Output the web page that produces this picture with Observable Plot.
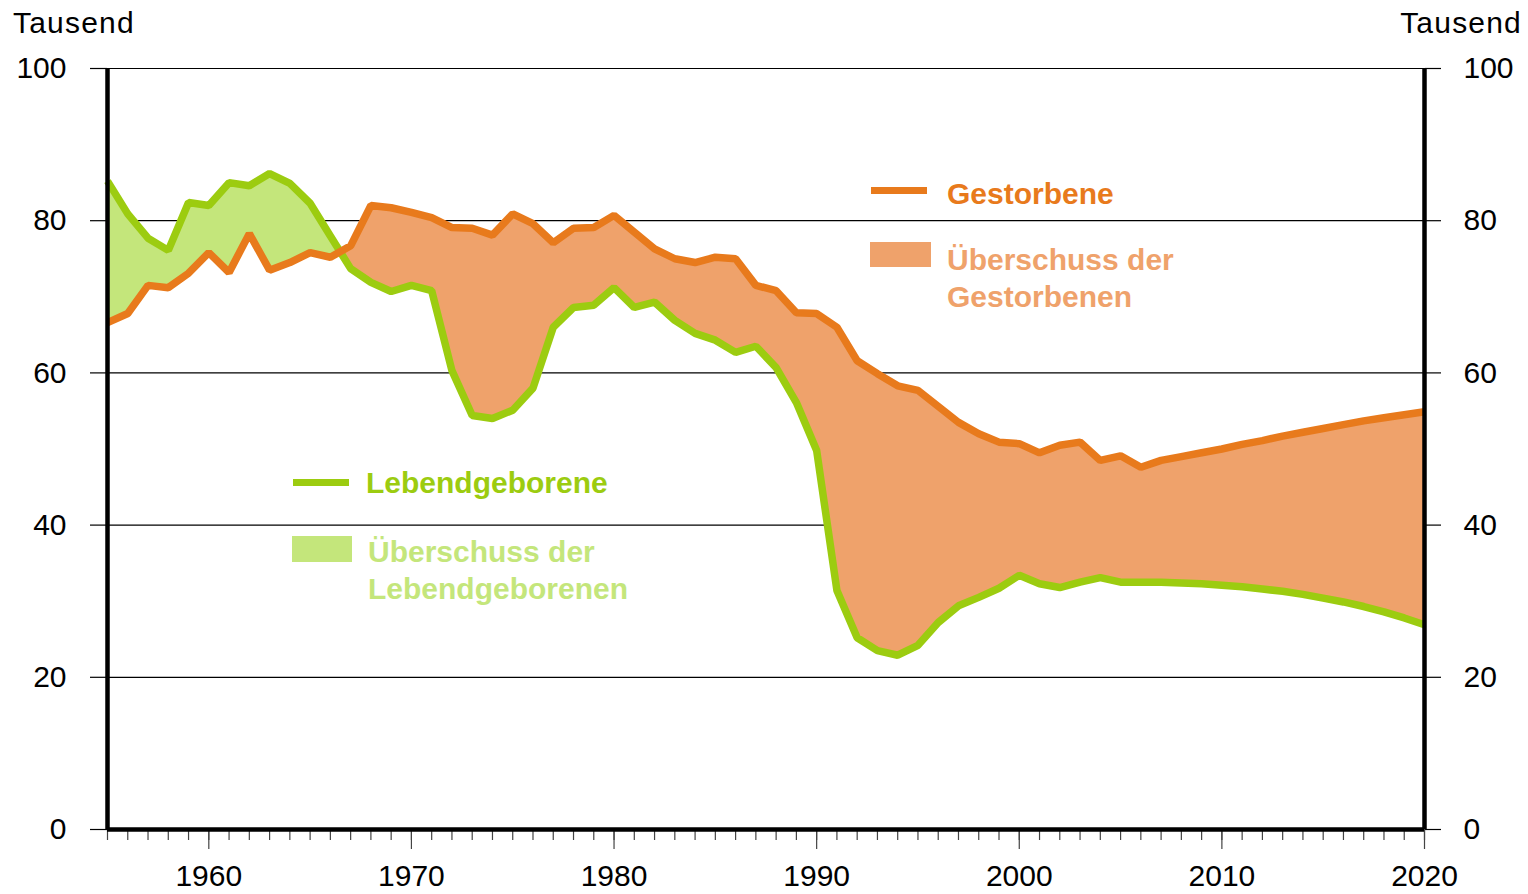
<!DOCTYPE html>
<html><head><meta charset="utf-8">
<script src="https://cdn.jsdelivr.net/npm/d3@7"></script>
<script src="https://cdn.jsdelivr.net/npm/@observablehq/plot@0.6"></script>
<style>
body{margin:0;background:#fff;}
#chart{width:1528px;height:894px;}
</style>
</head><body><div id="chart"></div>
<script>
const years = d3.range(1955, 2021);
const births = [85.2,80.9,77.7,76.1,82.4,82.0,85.0,84.6,86.2,84.9,82.3,78.0,73.7,71.9,70.7,71.5,70.8,60.3,54.4,54.0,
  55.1,58.0,66.0,68.6,68.9,71.2,68.6,69.3,66.9,65.2,64.3,62.7,63.5,60.7,56.1,49.8,31.4,25.2,23.5,22.9,
  24.2,27.2,29.4,30.5,31.7,33.4,32.3,31.8,32.5,33.1,32.5,32.5,32.5,32.4,32.3,32.1,31.9,31.6,31.3,30.9,
  30.4,29.9,29.3,28.6,27.8,26.9];
const deaths = [66.6,67.8,71.5,71.2,73.1,75.8,73.2,78.3,73.5,74.5,75.8,75.2,76.7,82.0,81.7,81.1,80.4,79.1,79.0,78.1,
  80.9,79.6,77.1,79.0,79.1,80.7,78.5,76.3,75.0,74.5,75.2,75.0,71.5,70.8,67.9,67.8,66.0,61.6,59.9,58.3,
  57.7,55.6,53.5,52.0,50.9,50.7,49.5,50.5,50.9,48.5,49.1,47.6,48.5,49.0,49.5,50.0,50.6,51.1,51.7,52.2,
  52.7,53.2,53.7,54.1,54.5,54.9];
const yTicks = [0,20,40,60,80,100];
const gridValues = [20,40,60,80,100];
const decadeTicks = [1960,1970,1980,1990,2000,2010,2020];
const yearTicks = years;
const unitLabel = "Tausend";
const legendBirthsLine = "Lebendgeborene";
const legendBirthsFill = ["Überschuss der", "Lebendgeborenen"];
const legendDeathsLine = "Gestorbene";
const legendDeathsFill = ["Überschuss der", "Gestorbenen"];

const C = {gLine:"#9CCC10", gFill:"#C4E67B", oLine:"#E87A1C", oFill:"#EFA26B"};
const rows = years.map((yr,i)=>({year:yr, births:births[i], deaths:deaths[i]}));

// difference fills via clip paths, using Plot's scales
function diffFill(index, scales) {
  const {x, y} = scales;
  const g = d3.create("svg:g");
  const defs = g.append("defs");
  const top = y(100);
  const aboveDeaths = d3.area().x(d=>x(d.year)).y0(d=>y(d.deaths)).y1(top);
  const aboveBirths = d3.area().x(d=>x(d.year)).y0(d=>y(d.births)).y1(top);
  const between = d3.area().x(d=>x(d.year)).y0(d=>y(d.deaths)).y1(d=>y(d.births));
  defs.append("clipPath").attr("id","clipAD").append("path").attr("d", aboveDeaths(rows));
  defs.append("clipPath").attr("id","clipAB").append("path").attr("d", aboveBirths(rows));
  g.append("path").attr("d", between(rows)).attr("fill", C.gFill).attr("clip-path","url(#clipAD)");
  g.append("path").attr("d", between(rows)).attr("fill", C.oFill).attr("clip-path","url(#clipAB)");
  return g.node();
}

const chart = Plot.plot({
  width:1528, height:894,
  marginLeft:107, marginRight:104, marginTop:68, marginBottom:65,
  style:{fontFamily:"'Liberation Sans', Arial, sans-serif", fontSize:"30px", color:"#000", background:"#fff", overflow:"visible"},
  x:{domain:[1955,2020]},
  y:{domain:[0,100]},
  marks:[
    Plot.ruleY(gridValues, {stroke:"#000", strokeWidth:1.2}),
    diffFill,
    Plot.line(rows, {x:"year", y:"births", stroke:C.gLine, strokeWidth:7.5, strokeLinecap:"butt", strokeLinejoin:"miter"}),
    Plot.line(rows, {x:"year", y:"deaths", stroke:C.oLine, strokeWidth:7.5, strokeLinecap:"butt", strokeLinejoin:"miter"}),
    Plot.axisY({anchor:"left", ticks:yTicks, tickSize:17, tickPadding:24, label:null, stroke:"#000", strokeWidth:1.2}),
    Plot.axisY({anchor:"right", ticks:yTicks, tickSize:16, tickPadding:23, label:null, stroke:"#000", strokeWidth:1.2}),
    Plot.axisX({ticks:yearTicks, tickSize:11, text:null, label:null, stroke:"#444", strokeWidth:1.2}),
    Plot.axisX({ticks:decadeTicks, tickSize:20, tickPadding:15, tickFormat:"d", label:null, stroke:"#444", strokeWidth:1.2}),
    Plot.ruleX([1955,2020], {stroke:"#000", strokeWidth:4.5}),
    Plot.ruleY([0], {stroke:"#000", strokeWidth:4.5})
  ]
});
document.getElementById("chart").appendChild(chart);

// legend and unit labels
const svg = d3.select(chart);
const L = svg.append("g").attr("text-anchor","start").style("font-family","'Liberation Sans', Arial, sans-serif").style("font-size","30px");
L.append("text").attr("x",13).attr("y",33).attr("fill","#000").style("letter-spacing","1.2px").text(unitLabel);
L.append("text").attr("x",1522).attr("y",33).attr("text-anchor","end").attr("fill","#000").style("letter-spacing","1.2px").text(unitLabel);
// deaths legend
L.append("rect").attr("x",871).attr("y",187).attr("width",56).attr("height",7).attr("fill",C.oLine);
L.append("text").attr("x",947).attr("y",204).attr("font-weight","bold").attr("fill",C.oLine).text(legendDeathsLine);
L.append("rect").attr("x",870).attr("y",242).attr("width",61).attr("height",25).attr("fill",C.oFill);
legendDeathsFill.forEach((t,i)=>L.append("text").attr("x",947).attr("y",270+i*37).attr("font-weight","bold").attr("fill",C.oFill).text(t));
// births legend
L.append("rect").attr("x",293).attr("y",479).attr("width",56).attr("height",7).attr("fill",C.gLine);
L.append("text").attr("x",366).attr("y",493).attr("font-weight","bold").attr("fill",C.gLine).text(legendBirthsLine);
L.append("rect").attr("x",292).attr("y",536).attr("width",60).attr("height",26).attr("fill",C.gFill);
legendBirthsFill.forEach((t,i)=>L.append("text").attr("x",368).attr("y",562+i*37).attr("font-weight","bold").attr("fill",C.gFill).text(t));
</script>
</body></html>
